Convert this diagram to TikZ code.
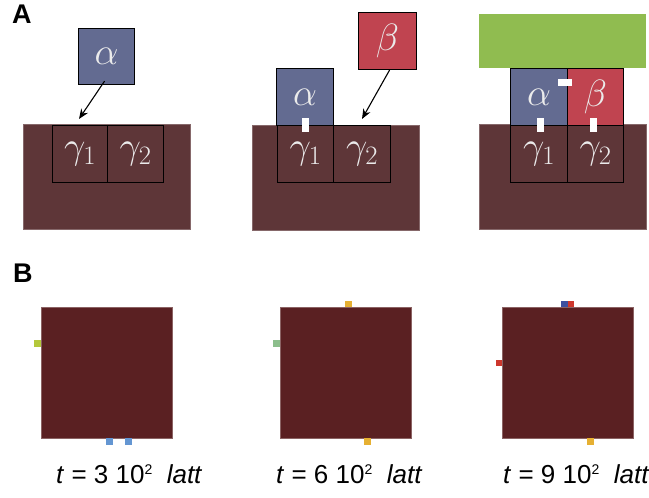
\RequirePackage{fix-cm}
\documentclass[tikz,border=0pt]{standalone}
\usepackage[no-math]{fontspec}
\setmainfont{Liberation Sans}
\usetikzlibrary{arrows.meta}
\definecolor{alphac}{RGB}{99,107,145}
\definecolor{betac}{RGB}{192,68,80}
\definecolor{greenc}{RGB}{144,188,80}
\definecolor{brownA}{RGB}{94,54,56}
\definecolor{brownB}{RGB}{90,32,34}
\definecolor{tabblue}{RGB}{100,150,210}
\definecolor{taborange}{RGB}{230,176,50}
\definecolor{tablime}{RGB}{180,200,60}
\definecolor{tabsage}{RGB}{140,190,140}
\definecolor{tabred}{RGB}{205,55,45}
\definecolor{tabnavy}{RGB}{60,80,160}
\newcommand{\supsmall}[1]{{\fontsize{14}{14}\selectfont\raisebox{9pt}{#1}}}
\tikzset{
  sq/.style={draw=black, line width=1.1pt, inner sep=0pt, anchor=north west, text=white!92!black,
    font=\fontsize{38}{44}\selectfont},
  base/.style={draw=brownA!75!white, line width=0.6pt, fill=brownA, inner sep=0pt, anchor=north west},
  cell/.style={draw=brownB!70!white, line width=0.6pt, fill=brownB, inner sep=0pt, anchor=north west,
    minimum width=131pt, minimum height=131pt},
  tab/.style={inner sep=0pt, anchor=north west, draw=none},
  wtab/.style={fill=white, inner sep=0pt, anchor=north west, draw=none},
  arr/.style={line width=1.1pt, -{Stealth[length=10pt,width=8pt]}},
  panel/.style={font=\fontsize{27}{30}\selectfont\bfseries, anchor=north west, inner sep=0pt},
  tlabel/.style={font=\fontsize{26}{30}\selectfont, anchor=base west, inner sep=0pt},
}
\begin{document}
\begin{tikzpicture}[x=1pt, y=-1pt]
\useasboundingbox (0,0) rectangle (649,498);
% ---------- Panel A ----------
\node[panel] (labA) at (12,5) {A};
% A1
\node[base, minimum width=167pt, minimum height=105pt] (b1) at (23,124) {};
\node[sq, minimum width=55pt, minimum height=57pt] (g11) at (52,125) {$\gamma_1$};
\node[sq, minimum width=56pt, minimum height=57pt] (g12) at (107,125) {$\gamma_2$};
\node[sq, fill=alphac, minimum width=56pt, minimum height=56pt] (a1) at (78,28) {$\alpha$};
\coordinate (e1) at (79,119);
\draw[arr] ([xshift=-2pt,yshift=4pt]a1.south) -- (e1);
% A2
\node[base, minimum width=167pt, minimum height=105pt] (b2) at (252,125) {};
\node[sq, minimum width=56pt, minimum height=57pt] (g21) at (277,125) {$\gamma_1$};
\node[sq, minimum width=57pt, minimum height=57pt] (g22) at (333,125) {$\gamma_2$};
\node[sq, fill=alphac, minimum width=57pt, minimum height=57pt] (a2) at (276,68) {$\alpha$};
\node[sq, fill=betac, minimum width=58pt, minimum height=57pt] (be2) at (358,12) {$\beta$};
\node[wtab, minimum width=7pt, minimum height=14pt] (w21) at (302,118) {};
\coordinate (e2) at (362,119);
\draw[arr] ([xshift=2pt]be2.south) -- (e2);
% A3
\node[base, minimum width=167pt, minimum height=105pt] (b3) at (479,124) {};
\node[inner sep=0pt, anchor=north west, fill=greenc, minimum width=167pt, minimum height=54pt] (gr3) at (479,14) {};
\node[sq, minimum width=57pt, minimum height=57pt] (g31) at (510,125) {$\gamma_1$};
\node[sq, minimum width=56pt, minimum height=57pt] (g32) at (567,125) {$\gamma_2$};
\node[sq, fill=alphac, minimum width=57pt, minimum height=57pt] (a3) at (510,68) {$\alpha$};
\node[sq, fill=betac, minimum width=56pt, minimum height=57pt] (be3) at (567,68) {$\beta$};
\node[wtab, minimum width=14pt, minimum height=7pt] (w30) at (558,79) {};
\node[wtab, minimum width=7pt, minimum height=14pt] (w31) at (537,118) {};
\node[wtab, minimum width=7pt, minimum height=14pt] (w32) at (590,118) {};
% ---------- Panel B ----------
\node[panel] (labB) at (13,264) {B};
% B1
\node[cell] (c1) at (41,307) {};
\node[tab, fill=tablime, minimum width=7pt, minimum height=7pt] (t11) at (34,340) {};
\node[tab, fill=tabblue, minimum width=6.5pt, minimum height=7pt] (t12) at (106,438) {};
\node[tab, fill=tabblue, minimum width=6.5pt, minimum height=7pt] (t13) at (125,438) {};
\node[tlabel] (l1) at (56,483) {\textit{t} = 3 10\supsmall{2} \ \textit{latt}};
% B2
\node[cell] (c2) at (280,307) {};
\node[tab, fill=taborange, minimum width=7pt, minimum height=6pt] (t21) at (345,301) {};
\node[tab, fill=tabsage, minimum width=7pt, minimum height=7pt] (t22) at (273,340) {};
\node[tab, fill=taborange, minimum width=7pt, minimum height=7pt] (t23) at (364,438) {};
\node[tlabel] (l2) at (276,483) {\textit{t} = 6 10\supsmall{2} \ \textit{latt}};
% B3
\node[cell] (c3) at (502,307) {};
\node[tab, fill=tabnavy, minimum width=6.5pt, minimum height=6pt] (t31) at (561,301) {};
\node[tab, fill=tabred, minimum width=6.5pt, minimum height=6pt] (t32) at (567.5,301) {};
\node[tab, fill=tabred, minimum width=6pt, minimum height=6pt] (t33) at (496,360) {};
\node[tab, fill=taborange, minimum width=7pt, minimum height=7pt] (t34) at (587,438) {};
\node[tlabel] (l3) at (503,483) {\textit{t} = 9 10\supsmall{2} \ \textit{latt}};
\end{tikzpicture}
\end{document}
